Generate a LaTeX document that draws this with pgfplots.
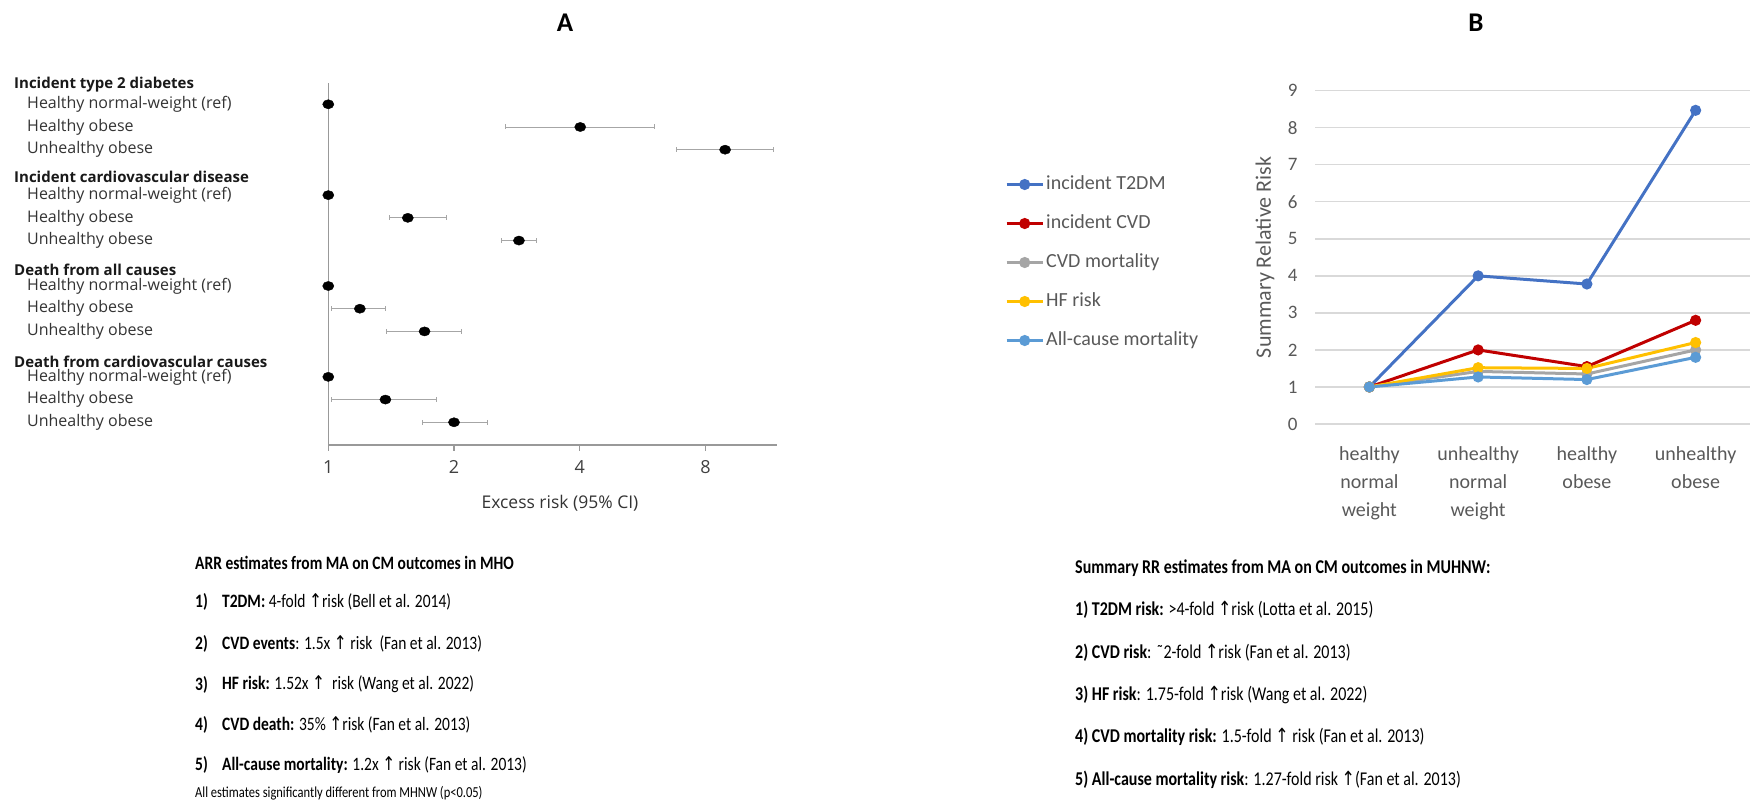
\documentclass[border=0pt]{standalone}
\usepackage{pgfplots}
\pgfplotsset{compat=1.18}
\usepackage{graphicx}
\usepackage{fontspec}
\setmainfont{Carlito}
\newfontfamily\opensans{Open Sans}
\newfontfamily\symfont{DejaVu Sans}

\definecolor{cT2}{HTML}{4472C4}
\definecolor{cCVD}{HTML}{C00000}
\definecolor{cMort}{HTML}{A5A5A5}
\definecolor{cHF}{HTML}{FFC000}
\definecolor{cAll}{HTML}{5B9BD5}
\definecolor{txtgray}{HTML}{595959}
\definecolor{gridgray}{HTML}{D9D9D9}
\definecolor{axgray}{HTML}{999999}
\definecolor{lblgray}{HTML}{333333}

\newcommand{\fs}[2]{\fontsize{#1}{#2}\selectfont}
\newcommand{\up}{{\symfont ↑}}
% summary text is set slightly condensed
\newcommand{\cond}[1]{\scalebox{1}[1.22]{#1}}

\begin{document}
\begin{tikzpicture}[x=1pt,y=1pt,
  lbl/.style={anchor=west, inner sep=0pt, font=\opensans\fs{16}{19}, text=lblgray},
  hdr/.style={anchor=west, inner sep=0pt, font=\opensans\bfseries\fs{15}{19}, text=black!90},
  sa/.style={anchor=west, inner sep=0pt, font=\fs{15.5}{18}, text=black},
  sb/.style={anchor=west, inner sep=0pt, font=\fs{16}{19}, text=black},
]
\path[use as bounding box] (0,0) rectangle (1751,803);

% panel letters
\node[font=\bfseries\fs{27}{30}] at (565,780) {A};
\node[font=\bfseries\fs{27}{30}] at (1476,780) {B};

% ---------------- Panel A: forest plot ----------------
\begin{axis}[
  scale only axis, anchor=south west, at={(328.3pt,358pt)},
  width=449pt, height=362.3pt,
  xmode=log, log basis x=2,
  xmin=1, xmax=11.88,
  ymin=-15, ymax=0.95,
  axis x line*=bottom, axis y line*=left,
  axis line style={axgray, line width=1.3pt, -},
  xtick={1,2,4,8}, xticklabels={1,2,4,8},
  ytick=\empty,
  tick align=outside, major tick length=6pt,
  x tick style={axgray, line width=1.3pt},
  xticklabel style={font=\opensans\fs{18}{21}, text=black!75, yshift=-6pt},
  xlabel={Excess risk (95\% CI)},
  xlabel style={font=\opensans\fs{17.5}{21}, text=black!80,
    at={(axis description cs:0.516,-0.16)}, anchor=center},
  clip=false,
]
% confidence intervals
\addplot[gray!70, line width=0.9pt, mark=|, mark size=2.5pt] coordinates {(2.66,-1) (6.02,-1)};
\addplot[gray!70, line width=0.9pt, mark=|, mark size=2.5pt] coordinates {(6.83,-2) (11.64,-2)};
\addplot[gray!70, line width=0.9pt, mark=|, mark size=2.5pt] coordinates {(1.40,-5) (1.92,-5)};
\addplot[gray!70, line width=0.9pt, mark=|, mark size=2.5pt] coordinates {(2.60,-6) (3.15,-6)};
\addplot[gray!70, line width=0.9pt, mark=|, mark size=2.5pt] coordinates {(1.015,-9) (1.37,-9)};
\addplot[gray!70, line width=0.9pt, mark=|, mark size=2.5pt] coordinates {(1.38,-10) (2.08,-10)};
\addplot[gray!70, line width=0.9pt, mark=|, mark size=2.5pt] coordinates {(1.02,-13) (1.82,-13)};
\addplot[gray!70, line width=0.9pt, mark=|, mark size=2.5pt] coordinates {(1.68,-14) (2.41,-14)};
% point estimates
\addplot[only marks, mark=*, mark size=5.6pt, mark options={black, fill=black, yscale=0.82}]
  coordinates {
  (1,0) (4.01,-1) (8.91,-2)
  (1,-4) (1.55,-5) (2.86,-6)
  (1,-8) (1.19,-9) (1.70,-10)
  (1,-12) (1.37,-13) (2.00,-14)
  };
% row labels
\node[hdr, xshift=-314.3pt] at (axis cs:1,0.85)   {Incident type 2 diabetes};
\node[lbl, xshift=-301.3pt] at (axis cs:1,0)      {Healthy normal-weight (ref)};
\node[lbl, xshift=-301.3pt] at (axis cs:1,-1)     {Healthy obese};
\node[lbl, xshift=-301.3pt] at (axis cs:1,-2)     {Unhealthy obese};
\node[hdr, xshift=-314.3pt] at (axis cs:1,-3.21)  {Incident cardiovascular disease};
\node[lbl, xshift=-301.3pt] at (axis cs:1,-4)     {Healthy normal-weight (ref)};
\node[lbl, xshift=-301.3pt] at (axis cs:1,-5)     {Healthy obese};
\node[lbl, xshift=-301.3pt] at (axis cs:1,-6)     {Unhealthy obese};
\node[hdr, xshift=-314.3pt] at (axis cs:1,-7.29)  {Death from all causes};
\node[lbl, xshift=-301.3pt] at (axis cs:1,-8)     {Healthy normal-weight (ref)};
\node[lbl, xshift=-301.3pt] at (axis cs:1,-9)     {Healthy obese};
\node[lbl, xshift=-301.3pt] at (axis cs:1,-10)    {Unhealthy obese};
\node[hdr, xshift=-314.3pt] at (axis cs:1,-11.33) {Death from cardiovascular causes};
\node[lbl, xshift=-301.3pt] at (axis cs:1,-12)    {Healthy normal-weight (ref)};
\node[lbl, xshift=-301.3pt] at (axis cs:1,-13)    {Healthy obese};
\node[lbl, xshift=-301.3pt] at (axis cs:1,-14)    {Unhealthy obese};
\end{axis}

% ---------------- Panel B: summary relative risk ----------------
\begin{axis}[
  scale only axis, anchor=south west, at={(1315pt,379pt)},
  width=435pt, height=333.3pt,
  xmin=-0.5, xmax=3.5, ymin=0, ymax=9,
  axis line style={draw=none},
  major tick length=0pt,
  ymajorgrids, grid style={gridgray, line width=1.4pt},
  xtick={0,1,2,3},
  xticklabels={healthy\\normal\\weight, unhealthy\\normal\\weight, healthy\\obese, unhealthy\\obese},
  xticklabel style={align=center, font=\fs{20}{28}, text=txtgray, anchor=north, yshift=-19pt},
  ytick={0,1,2,3,4,5,6,7,8,9},
  yticklabels={0,1,2,3,4,5,6,7,8,9},
  yticklabel style={font=\fs{19}{22}, text=txtgray, xshift=-14pt},
  ylabel={Summary Relative Risk},
  ylabel style={font=\fs{22}{26}, text=txtgray,
    at={(axis description cs:-0.115,0.5)}, anchor=center},
  legend style={at={(axis description cs:-0.7126,0.4845)}, anchor=west,
    draw=none, fill=none, font=\fs{20}{24}, text=txtgray,
    row sep=17pt, inner sep=0pt,
    nodes={inner sep=2pt, text height=14pt, text depth=4pt}},
  legend cell align=left,
  legend image code/.code={%
    \draw[#1, mark repeat=2, mark phase=2]
      plot coordinates {(0pt,0pt) (18pt,0pt) (36pt,0pt)};},
  every axis plot/.append style={line width=3pt, mark=*, mark size=4pt},
  clip=false,
]
\addplot[cT2, mark options={fill=cT2}]   coordinates {(0,1) (1,4.0) (2,3.78) (3,8.47)};
\addlegendentry{incident T2DM}
\addplot[cCVD, mark options={fill=cCVD}] coordinates {(0,1) (1,2.0) (2,1.55) (3,2.8)};
\addlegendentry{incident CVD}
\addplot[cMort, mark options={fill=cMort}] coordinates {(0,1) (1,1.42) (2,1.35) (3,2.0)};
\addlegendentry{CVD mortality}
\addplot[cHF, mark options={fill=cHF}]   coordinates {(0,1) (1,1.52) (2,1.5) (3,2.2)};
\addlegendentry{HF risk}
\addplot[cAll, mark options={fill=cAll}] coordinates {(0,1) (1,1.27) (2,1.2) (3,1.8)};
\addlegendentry{All-cause mortality}
\end{axis}

% ---------------- summary text, panel A ----------------
\node[sa] at (195,240.3) {\cond{\bfseries ARR estimates from MA on CM outcomes in MHO}};
\node[sa] at (195,201.3) {\cond{\bfseries 1)}};
\node[sa] at (222,201.3) {\cond{\textbf{T2DM:} 4-fold \up risk (Bell et al. 2014)}};
\node[sa] at (195,158.7) {\cond{\bfseries 2)}};
\node[sa] at (222,158.7) {\cond{\textbf{CVD events}: 1.5x \up{} risk\ \ (Fan et al. 2013)}};
\node[sa] at (195,118.3) {\cond{\bfseries 3)}};
\node[sa] at (222,118.3) {\cond{\textbf{HF risk:} 1.52x \up\ \ risk (Wang et al. 2022)}};
\node[sa] at (195,78.3) {\cond{\bfseries 4)}};
\node[sa] at (222,78.3) {\cond{\textbf{CVD death:} 35\% \up risk (Fan et al. 2013)}};
\node[sa] at (195,38) {\cond{\bfseries 5)}};
\node[sa] at (222,38) {\cond{\textbf{All-cause mortality:} 1.2x \up{} risk (Fan et al. 2013)}};
\node[sa, font=\fs{12.5}{15}] at (195,9.7) {\cond{All estimates significantly different from MHNW (p<0.05)}};

% ---------------- summary text, panel B ----------------
\node[sb] at (1075,235) {\cond{\bfseries Summary RR estimates from MA on CM outcomes in MUHNW:}};
\node[sb] at (1075,193) {\cond{\textbf{1)}\ \textbf{T2DM risk:} >4-fold \up risk (Lotta et al. 2015)}};
\node[sb] at (1075,150.5) {\cond{\textbf{2)}\ \textbf{CVD risk}: \char"02DC 2-fold \up risk (Fan et al. 2013)}};
\node[sb] at (1075,108) {\cond{\textbf{3)}\ \textbf{HF risk}: 1.75-fold \up risk (Wang et al. 2022)}};
\node[sb] at (1075,66) {\cond{\textbf{4)}\ \textbf{CVD mortality risk:} 1.5-fold \up{} risk (Fan et al. 2013)}};
\node[sb] at (1075,23.5) {\cond{\textbf{5)}\ \textbf{All-cause mortality risk}: 1.27-fold risk \up(Fan et al. 2013)}};
\end{tikzpicture}
\end{document}
